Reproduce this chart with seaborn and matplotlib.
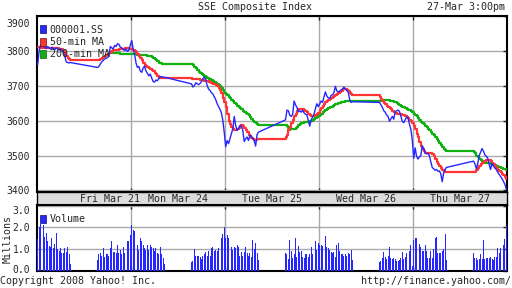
import numpy as np
import pandas as pd
import matplotlib
matplotlib.use("Agg")
import matplotlib.pyplot as plt
from matplotlib.patches import Patch
from matplotlib.transforms import ScaledTranslation
import seaborn as sns

# ---------------- data (5-minute samples, 24 per half-day session) ----------------
session_names = ["Fri AM", "Fri PM", "Mon AM", "Mon PM", "Tue AM", "Tue PM",
                 "Wed AM", "Wed PM", "Thu AM", "Thu PM"]

price_fri_am = [3760, 3800, 3815, 3818, 3812, 3810, 3806, 3812, 3808, 3805, 3810, 3806,
                3803, 3808, 3805, 3802, 3806, 3800, 3795, 3785, 3768, 3766, 3765, 3766]
price_fri_pm = [3752, 3755, 3762, 3768, 3772, 3776, 3778, 3780, 3785, 3812, 3808, 3805,
                3815, 3812, 3820, 3818, 3810, 3808, 3805, 3800, 3805, 3798, 3802, 3815]
price_mon_am = [3829, 3805, 3790, 3765, 3752, 3755, 3742, 3738, 3750, 3756, 3742, 3735,
                3728, 3733, 3722, 3712, 3710, 3716, 3714, 3720, 3725, 3726, 3724, 3724]
price_mon_pm = [3705, 3696, 3700, 3708, 3705, 3703, 3706, 3712, 3720, 3724, 3718, 3700,
                3690, 3686, 3680, 3676, 3668, 3660, 3648, 3640, 3632, 3622, 3600, 3565]
price_tue_am = [3525, 3543, 3534, 3548, 3562, 3577, 3612, 3586, 3572, 3577, 3586, 3584,
                3572, 3540, 3548, 3553, 3543, 3558, 3556, 3548, 3543, 3527, 3560, 3567]
price_tue_pm = [3602, 3630, 3628, 3615, 3612, 3618, 3656, 3645, 3638, 3625, 3628, 3624,
                3630, 3622, 3618, 3616, 3600, 3584, 3602, 3610, 3618, 3635, 3648, 3640]
price_wed_am = [3648, 3656, 3652, 3668, 3682, 3670, 3665, 3663, 3672, 3674, 3680, 3698,
                3685, 3682, 3684, 3688, 3690, 3696, 3690, 3686, 3682, 3660, 3652, 3654]
price_wed_pm = [3652, 3645, 3638, 3628, 3624, 3616, 3612, 3598, 3605, 3612, 3604, 3625,
                3628, 3630, 3626, 3612, 3598, 3594, 3602, 3610, 3608, 3590, 3575, 3545]
price_thu_am = [3492, 3522, 3498, 3490, 3496, 3500, 3528, 3520, 3508, 3505, 3506, 3500,
                3482, 3466, 3462, 3458, 3460, 3455, 3456, 3448, 3425, 3450, 3460, 3466]
price_thu_pm = [3484, 3476, 3462, 3478, 3500, 3510, 3520, 3512, 3502, 3498, 3492, 3474,
                3460, 3478, 3470, 3464, 3460, 3452, 3446, 3440, 3434, 3426, 3418, 3404]

ma50_fri_am = [3810, 3810, 3809, 3809, 3809, 3808, 3808, 3808, 3808, 3808, 3808, 3808,
               3807, 3807, 3807, 3806, 3806, 3805, 3800, 3792, 3785, 3779, 3775, 3773]
ma50_fri_pm = [3773, 3774, 3776, 3778, 3781, 3784, 3787, 3790, 3793, 3796, 3799, 3801,
               3802, 3803, 3803, 3804, 3804, 3805, 3806, 3808, 3808, 3807, 3806, 3806]
ma50_mon_am = [3805, 3803, 3800, 3796, 3790, 3784, 3778, 3772, 3766, 3760, 3755, 3752,
               3750, 3748, 3745, 3741, 3737, 3733, 3728, 3724, 3722, 3721, 3721, 3721]
ma50_mon_pm = [3720, 3720, 3719, 3719, 3718, 3718, 3717, 3716, 3715, 3714, 3713, 3712,
               3711, 3710, 3708, 3706, 3704, 3702, 3698, 3694, 3688, 3678, 3666, 3652]
ma50_tue_am = [3640, 3620, 3600, 3590, 3582, 3576, 3572, 3572, 3575, 3580, 3585, 3586,
               3585, 3580, 3572, 3566, 3560, 3555, 3550, 3547, 3545, 3545, 3546, 3547]
ma50_tue_pm = [3552, 3560, 3572, 3582, 3592, 3602, 3612, 3620, 3626, 3632, 3634, 3634,
               3632, 3630, 3627, 3624, 3620, 3616, 3614, 3614, 3614, 3615, 3618, 3622]
ma50_wed_am = [3630, 3636, 3642, 3647, 3652, 3655, 3658, 3661, 3664, 3667, 3670, 3674,
               3677, 3680, 3683, 3686, 3689, 3691, 3690, 3688, 3684, 3679, 3675, 3673]
ma50_wed_pm = [3668, 3662, 3656, 3651, 3646, 3642, 3638, 3635, 3632, 3628, 3624, 3621,
               3620, 3619, 3619, 3618, 3617, 3616, 3614, 3611, 3608, 3603, 3598, 3592]
ma50_thu_am = [3585, 3575, 3563, 3552, 3540, 3528, 3518, 3512, 3508, 3506, 3506, 3508,
               3508, 3505, 3498, 3490, 3482, 3476, 3470, 3465, 3460, 3456, 3453, 3452]
ma50_thu_pm = [3452, 3454, 3458, 3464, 3470, 3476, 3480, 3483, 3485, 3486, 3487, 3486,
               3484, 3480, 3476, 3470, 3465, 3460, 3456, 3452, 3448, 3443, 3438, 3434]

nan = np.nan
ma200_fri_am = [nan] * 24
ma200_fri_pm = [nan] * 9 + [3793, 3793, 3792, 3792, 3792, 3792, 3792, 3791, 3791,
                            3791, 3791, 3791, 3790, 3790, 3790]
ma200_mon_am = [3790, 3790, 3790, 3790, 3789, 3789, 3789, 3788, 3788, 3787, 3787, 3786,
                3785, 3784, 3782, 3780, 3777, 3773, 3769, 3766, 3764, 3763, 3763, 3763]
ma200_mon_pm = [3762, 3758, 3754, 3750, 3745, 3740, 3737, 3734, 3731, 3728, 3725, 3722,
                3720, 3718, 3716, 3714, 3711, 3708, 3705, 3702, 3698, 3694, 3688, 3680]
ma200_tue_am = [3676, 3672, 3668, 3664, 3660, 3655, 3651, 3647, 3643, 3639, 3635, 3632,
                3628, 3625, 3622, 3619, 3615, 3610, 3605, 3600, 3596, 3592, 3589, 3588]
ma200_tue_pm = [3586, 3584, 3580, 3577, 3576, 3576, 3576, 3578, 3582, 3586, 3590, 3592,
                3594, 3595, 3596, 3596, 3597, 3598, 3600, 3602, 3605, 3608, 3611, 3614]
ma200_wed_am = [3616, 3620, 3624, 3627, 3630, 3633, 3636, 3638, 3640, 3642, 3644, 3646,
                3648, 3650, 3651, 3652, 3653, 3654, 3655, 3656, 3656, 3657, 3657, 3657]
ma200_wed_pm = [3657, 3658, 3659, 3659, 3659, 3658, 3658, 3657, 3656, 3655, 3654, 3652,
                3650, 3648, 3645, 3642, 3640, 3638, 3636, 3633, 3631, 3629, 3627, 3624]
ma200_thu_am = [3620, 3616, 3612, 3607, 3602, 3597, 3593, 3589, 3585, 3581, 3577, 3573,
                3568, 3563, 3558, 3553, 3548, 3542, 3536, 3530, 3524, 3519, 3515, 3512]
ma200_thu_pm = [3510, 3506, 3500, 3496, 3491, 3487, 3484, 3482, 3481, 3480, 3479, 3478,
                3477, 3476, 3474, 3472, 3470, 3468, 3466, 3465, 3463, 3462, 3461, 3459]

# volume in millions
vol_fri_am = [1.45, 2.0, 2.15, 1.95, 2.1, 1.55, 1.75, 1.35, 1.15, 1.1, 1.5, 1.05,
              1.25, 1.75, 1.0, 0.9, 1.05, 0.8, 0.8, 1.05, 0.85, 1.1, 0.75, 0.3]
vol_fri_pm = [0.5, 0.75, 0.8, 0.7, 1.05, 0.65, 0.75, 0.75, 0.7, 1.05, 1.35, 0.85,
              0.85, 0.8, 1.2, 0.8, 0.95, 0.75, 1.1, 0.8, 1.25, 1.35, 1.35, 1.65]
vol_mon_am = [2.1, 1.9, 1.85, 1.5, 1.2, 0.95, 1.5, 1.35, 1.2, 1.05, 0.95, 1.2,
              0.95, 1.2, 1.1, 1.05, 0.9, 1.05, 0.8, 0.75, 1.1, 0.75, 0.6, 0.3]
vol_mon_pm = [0.42, 0.45, 1.0, 0.7, 0.7, 0.7, 0.65, 0.55, 0.7, 0.75, 0.85, 0.7,
              0.9, 0.7, 1.05, 1.1, 0.9, 0.95, 0.9, 1.05, 1.35, 1.5, 1.7, 2.0]
vol_tue_am = [1.5, 1.65, 1.5, 1.05, 1.1, 0.95, 1.1, 1.05, 1.2, 1.1, 0.7, 0.85,
              0.7, 0.85, 1.1, 0.8, 0.7, 0.8, 0.65, 1.4, 1.0, 1.3, 0.8, 0.5]
vol_tue_pm = [0.8, 0.75, 0.55, 1.4, 0.9, 0.6, 0.75, 1.5, 0.65, 1.15, 0.85, 0.9,
              0.65, 0.6, 0.75, 0.75, 0.65, 0.75, 1.1, 0.75, 0.95, 1.35, 0.95, 1.3]
vol_wed_am = [1.2, 1.2, 1.15, 1.1, 1.6, 1.1, 1.05, 0.95, 0.85, 0.8, 0.85, 0.65,
              1.2, 1.3, 0.9, 0.75, 0.75, 0.7, 0.75, 0.7, 0.8, 0.75, 0.95, 0.5]
vol_wed_pm = [0.42, 0.45, 0.6, 0.85, 0.65, 0.55, 0.7, 1.1, 0.6, 0.55, 0.6, 0.55,
              0.45, 0.45, 0.5, 0.6, 0.85, 0.55, 0.65, 0.8, 0.8, 0.9, 1.2, 0.2]
vol_thu_am = [1.4, 1.5, 1.5, 1.35, 1.25, 1.1, 0.9, 0.9, 1.2, 0.9, 0.6, 0.6,
              0.9, 0.6, 1.0, 1.5, 1.55, 0.8, 0.8, 0.8, 0.9, 1.0, 1.7, 0.5]
vol_thu_pm = [0.8, 0.6, 0.6, 0.5, 0.55, 0.75, 0.55, 1.4, 0.55, 0.6, 0.6, 0.6,
              0.65, 0.55, 0.5, 0.65, 0.65, 1.05, 0.8, 1.05, 1.4, 1.2, 1.45, 2.05]

day_labels = ["Fri Mar 21", "Mon Mar 24", "Tue Mar 25", "Wed Mar 26", "Thu Mar 27"]
day_label_pos = [255, 495, 825, 1155, 1485]       # minutes on compressed axis
day_bounds = [330, 660, 990, 1320]
price_ticks = [3400, 3500, 3600, 3700, 3800, 3900]
vol_ticks = [0.0, 1.0, 2.0, 3.0]

# ---------------- assemble ----------------
price = sum([price_fri_am, price_fri_pm, price_mon_am, price_mon_pm, price_tue_am,
             price_tue_pm, price_wed_am, price_wed_pm, price_thu_am, price_thu_pm], [])
ma50 = sum([ma50_fri_am, ma50_fri_pm, ma50_mon_am, ma50_mon_pm, ma50_tue_am,
            ma50_tue_pm, ma50_wed_am, ma50_wed_pm, ma50_thu_am, ma50_thu_pm], [])
ma200 = sum([ma200_fri_am, ma200_fri_pm, ma200_mon_am, ma200_mon_pm, ma200_tue_am,
             ma200_tue_pm, ma200_wed_am, ma200_wed_pm, ma200_thu_am, ma200_thu_pm], [])
vol = sum([vol_fri_am, vol_fri_pm, vol_mon_am, vol_mon_pm, vol_tue_am,
           vol_tue_pm, vol_wed_am, vol_wed_pm, vol_thu_am, vol_thu_pm], [])

minutes = []
for d in range(5):
    for off in (0, 210):   # morning session, afternoon session after lunch
        minutes.extend(d * 330 + off + 2.5 + 5 * np.arange(24))
df = pd.DataFrame({"t": minutes, "price": price, "ma50": ma50, "ma200": ma200, "vol": vol})

BLUE = "#2626ff"
RED = "#ff3535"
GREEN = "#10b010"
GRID = "#a9a9a9"

sns.set_style("white")
plt.rcParams["font.family"] = ["DejaVu Sans Mono"]
plt.rcParams["font.size"] = 7

W, H = 512, 288
fig = plt.figure(figsize=(W / 100, H / 100), dpi=100)
fig.patch.set_facecolor("white")

L, R = 37, 507
ax = fig.add_axes([L / W, 1 - 192 / H, (R - L) / W, (192 - 15.7) / H])
band = fig.add_axes([L / W, 1 - 205 / H, (R - L) / W, 13 / H])
axv = fig.add_axes([L / W, 1 - 271 / H, (R - L) / W, 66 / H])

XL = (0, 1650)

# ---- main price panel ----
ma200_df = df.dropna(subset=["ma200"])
sns.lineplot(data=ma200_df, x="t", y="ma200", ax=ax, color=GREEN, lw=1.6,
             drawstyle="steps-post", estimator=None, sort=False, zorder=3)
sns.lineplot(data=df, x="t", y="ma50", ax=ax, color=RED, lw=1.6,
             drawstyle="steps-post", estimator=None, sort=False, zorder=4)
sns.lineplot(data=df, x="t", y="price", ax=ax, color=BLUE, lw=1.0,
             estimator=None, sort=False, zorder=5)
ax.set_xlim(*XL)
ax.set_ylim(3395.7, 3896.6)
ax.set_yticks(price_ticks)
ax.set_yticklabels([str(v) for v in price_ticks])
ax.set_xticks(day_bounds)
ax.set_xlabel("")
ax.set_ylabel("")
ax.grid(True, color=GRID, lw=1.0)
ax.tick_params(axis="y", left=False, right=True, direction="in", length=3,
               width=1, labelleft=True, pad=5, labelsize=7)
ax.tick_params(axis="x", top=True, bottom=True, direction="in", length=3,
               width=1, labelbottom=False)
for s in ax.spines.values():
    s.set_color("black")
    s.set_linewidth(1.5)
leg = ax.legend(handles=[Patch(facecolor=BLUE, edgecolor="#101060", lw=0.5, label="000001.SS"),
                         Patch(facecolor=RED, edgecolor="#601010", lw=0.5, label="50-min MA"),
                         Patch(facecolor=GREEN, edgecolor="#106010", lw=0.5, label="200-min MA")],
                loc="upper left", bbox_to_anchor=(0.006, 0.948), frameon=False,
                borderaxespad=0, borderpad=0, handlelength=0.65, handleheight=0.85,
                handletextpad=0.35, labelspacing=0.22, fontsize=7.2)

# ---- date band ----
band.set_facecolor("#dcdcdc")
band.set_xlim(*XL)
band.set_ylim(0, 1)
band.set_xticks([])
band.set_yticks([])
for s in band.spines.values():
    s.set_color("black")
    s.set_linewidth(1.0)
for lab, pos in zip(day_labels, day_label_pos):
    band.text(pos, 0.45, lab, ha="center", va="center", fontsize=7.2)

# ---- volume panel ----
axv.bar(df["t"], df["vol"], width=3.3, color=BLUE, linewidth=0, zorder=3)
axv.set_xlim(*XL)
axv.set_ylim(-0.014, 3.03)
axv.set_yticks(vol_ticks)
axv.set_yticklabels([f"{v:.1f}" for v in vol_ticks])
axv.set_xticks(day_bounds)
axv.grid(True, color=GRID, lw=1.0)
axv.tick_params(axis="y", left=False, right=True, direction="in", length=3,
                width=1, labelleft=True, pad=5, labelsize=7)
axv.tick_params(axis="x", top=True, bottom=True, direction="in", length=3,
                width=1, labelbottom=False)
for s in axv.spines.values():
    s.set_color("black")
    s.set_linewidth(1.5)
axv.legend(handles=[Patch(facecolor=BLUE, edgecolor="#101060", lw=0.5, label="Volume")],
           loc="upper left", bbox_to_anchor=(0.006, 0.86), frameon=False,
           borderaxespad=0, borderpad=0, handlelength=0.65, handleheight=0.85,
           handletextpad=0.35, fontsize=7.2)

# shift edge tick labels like the reference
fig.canvas.draw()
for lab in ax.get_yticklabels():
    if lab.get_text() == "3900":
        lab.set_transform(lab.get_transform() + ScaledTranslation(0, -0.07, fig.dpi_scale_trans))
for lab in axv.get_yticklabels():
    if lab.get_text() == "3.0":
        lab.set_transform(lab.get_transform() + ScaledTranslation(0, -0.045, fig.dpi_scale_trans))
    if lab.get_text() == "0.0":
        lab.set_transform(lab.get_transform() + ScaledTranslation(0, 0.02, fig.dpi_scale_trans))

# ---- texts ----
fig.text(255 / W, 1 - 7 / H, "SSE Composite Index", ha="center", va="center", fontsize=7.2)
fig.text(505 / W, 1 - 7 / H, "27-Mar 3:00pm", ha="right", va="center", fontsize=7.2)
fig.text(8 / W, 1 - 239 / H, "Millions", ha="center", va="center", rotation=90, fontsize=7.2)
fig.text(0 / W, 1 - 281 / H, "Copyright 2008 Yahoo! Inc.", ha="left", va="center", fontsize=7.2)
fig.text(511 / W, 1 - 281 / H, "http://finance.yahoo.com/", ha="right", va="center", fontsize=7.2)

fig.savefig("out.png", dpi=100)
